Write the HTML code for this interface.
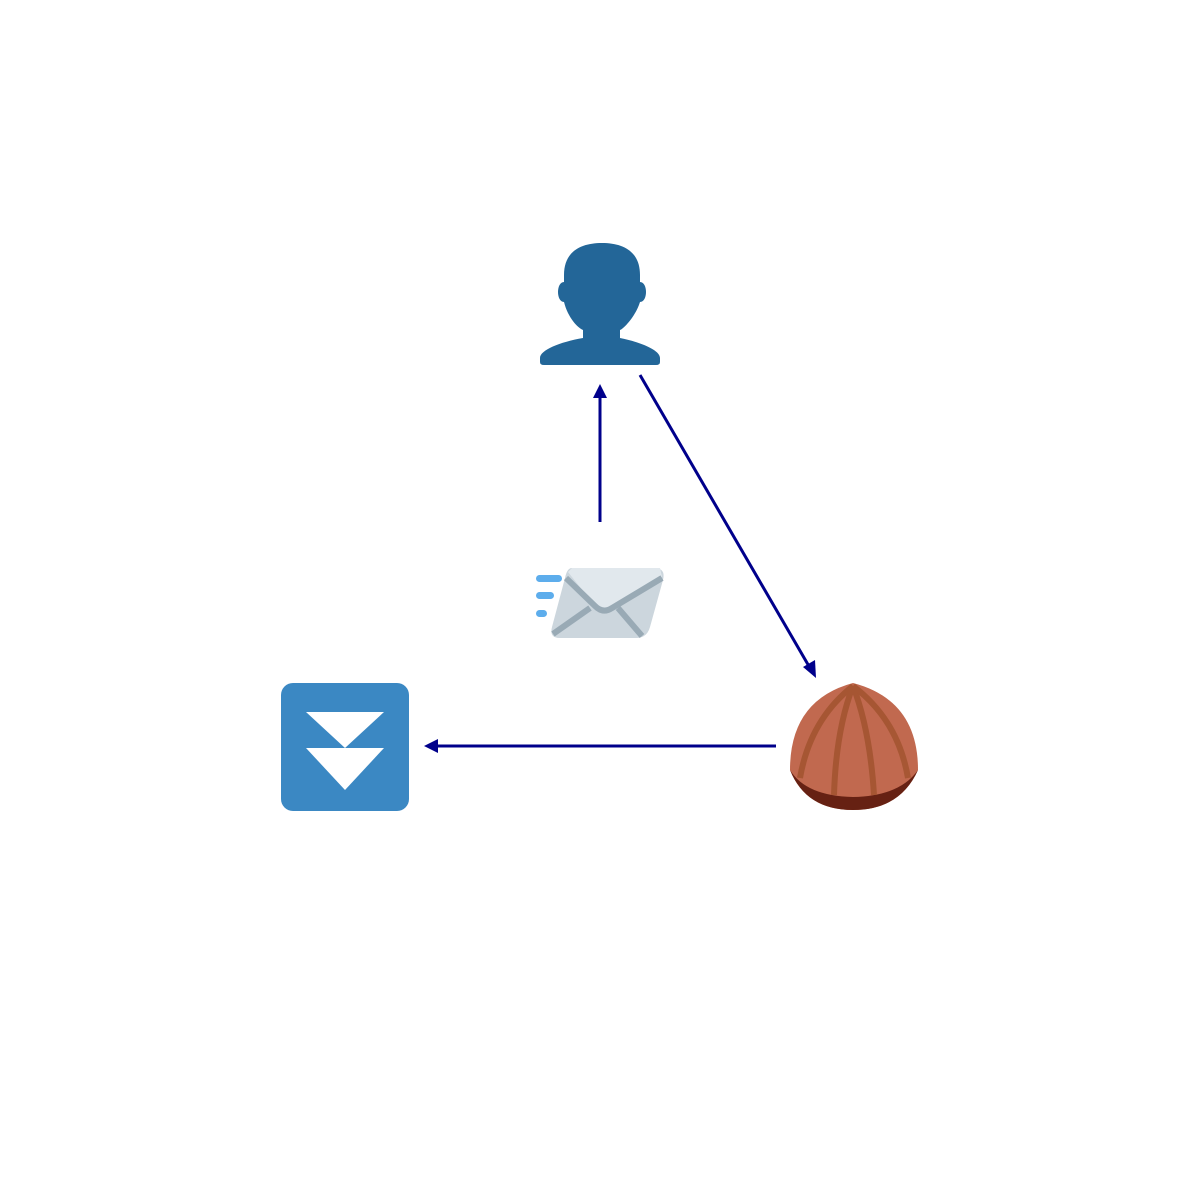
<!DOCTYPE html>
<html><head><style>html,body{margin:0;padding:0;background:#fff;width:1200px;height:1200px;overflow:hidden}</style></head>
<body>
<svg width="1200" height="1200" viewBox="0 0 1200 1200" xmlns="http://www.w3.org/2000/svg">
<!-- person -->
<g fill="#236698">
<path d="M564 275 C564 252 580 243 602 243 C624 243 640 252 640 275 L640 282 C648 282 648 302 640 302 C635 318 622 330 620 330 L620 338 C640 342 660 350 660 358 L660 362 Q660 365 656 365 L544 365 Q540 365 540 362 L540 358 C540 350 560 342 583 338 L583 330 C578 328 568 318 564 302 C556 302 556 282 564 282 Z"/>
</g>
<!-- envelope -->
<g>
<rect x="536" y="575" width="26" height="7" rx="3.5" fill="#5dadec"/>
<rect x="536" y="592" width="18" height="7" rx="3.5" fill="#5dadec"/>
<rect x="536" y="610" width="11" height="7" rx="3.5" fill="#5dadec"/>
<path d="M572 568 L654 568 Q666 568 663 580 L650 627 Q647 638 636 638 L560 638 Q549 638 552 627 L565 578 Q567 568 572 568 Z" fill="#ccd6dd"/>
<path d="M568 572 L595 606 Q603 614 612 608 L662 577 L660 568 L572 568 Z" fill="#e1e8ed"/>
<path d="M566 578 L595 606 Q603 614 612 608 L662 578" stroke="#99aab5" stroke-width="6" fill="none"/>
<path d="M553 634 L590 608 M618 608 L642 636" stroke="#99aab5" stroke-width="6" fill="none"/>
</g>
<!-- blue square -->
<rect x="281" y="683" width="128" height="128" rx="12" fill="#3b88c3"/>
<polygon points="306,712 384,712 345,748" fill="#fff"/>
<polygon points="306,748 384,748 345,790" fill="#fff"/>
<!-- nut -->
<path d="M790 770 Q790 700 853 683 Q918 700 918 770 Q900 810 853 810 Q806 810 790 770 Z" fill="#c1694f"/>
<path d="M790 770 Q806 810 853 810 Q900 810 918 770 Q900 796 853 797 Q806 796 790 770 Z" fill="#662113"/>
<g stroke="#a0522d" stroke-width="6" fill="none" opacity="0.8">
<path d="M853 686 Q810 720 800 778"/>
<path d="M853 686 Q836 730 834 795"/>
<path d="M853 686 Q870 730 874 795"/>
<path d="M853 686 Q898 720 908 778"/>
</g>
<!-- arrows -->
<g stroke="#00008b" stroke-width="3" fill="#00008b">
<line x1="600" y1="522" x2="600" y2="396"/>
<polygon points="600,384 593,398 607,398" stroke="none"/>
<line x1="640" y1="375" x2="810" y2="668"/>
<polygon points="816,678 803,667 815,660" stroke="none"/>
<line x1="776" y1="746" x2="436" y2="746"/>
<polygon points="424,746 438,739 438,753" stroke="none"/>
</g>
</svg>
</body></html>
